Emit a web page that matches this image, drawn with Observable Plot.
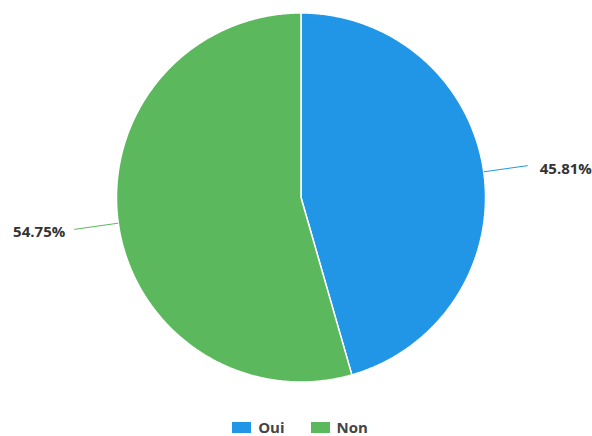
<!DOCTYPE html>
<html>
<head>
<meta charset="utf-8">
<script src="https://cdn.jsdelivr.net/npm/d3@7"></script>
<script src="https://cdn.jsdelivr.net/npm/@observablehq/plot@0.6"></script>
<style>
  html, body { margin: 0; padding: 0; background: #fff; }
  #chart { width: 592px; }
  #legend .leg-swatches { justify-content: center; padding-left: 8px; font-family: "Open Sans", sans-serif; font-size: 15px; font-weight: bold; color: #444; min-height: 30px; margin: 0; line-height: 1; }
  #legend .leg-swatch { margin: 0 13px; line-height: 1; }
  #legend .leg-swatch > svg { margin-right: 7px; }
</style>
</head>
<body>
<div id="chart"></div>
<div id="legend"></div>
<script>
const labels = ["Oui", "Non"];
const values = [45.81, 54.75];
const labelTexts = ["45.81%", "54.75%"];
const colors = ["#2196e6", "#5cb85c"];

const W = 592, H = 412;
const R = 184.5, cx = 300.5, cy = 197;

const rows = labels.map((label, i) => ({label, value: values[i], text: labelTexts[i]}));
const arcs = d3.pie().sort(null).value(d => d.value)(rows);

// slice outlines (center + arc vertices) in chart units
const slicePts = [];
for (const a of arcs) {
  slicePts.push({label: a.data.label, x: 0, y: 0});
  const n = Math.max(2, Math.ceil((a.endAngle - a.startAngle) / (Math.PI / 360)));
  for (let k = 0; k <= n; k++) {
    const t = a.startAngle + (a.endAngle - a.startAngle) * k / n;
    slicePts.push({label: a.data.label, x: R * Math.sin(t), y: R * Math.cos(t)});
  }
}

const R2 = 229;
const callouts = arcs.map(a => {
  const m = (a.startAngle + a.endAngle) / 2;
  return {
    label: a.data.label, text: a.data.text,
    x1: R * Math.sin(m), y1: R * Math.cos(m),
    x2: R2 * Math.sin(m), y2: R2 * Math.cos(m),
    side: Math.sin(m) >= 0 ? 1 : -1
  };
});

const colorScale = {domain: labels, range: colors};

const plot = Plot.plot({
  width: W, height: H,
  marginTop: 0, marginRight: 0, marginBottom: 0, marginLeft: 0,
  x: {axis: null, domain: [-cx, W - cx]},
  y: {axis: null, domain: [-(H - cy), cy]},
  color: colorScale,
  style: {fontFamily: "'Open Sans', sans-serif", background: "#fff"},
  marks: [
    Plot.line(slicePts, {x: "x", y: "y", z: "label", fill: "label", stroke: "#fff", strokeWidth: 1.5, curve: "linear-closed"}),
    Plot.link(callouts, {x1: "x1", y1: "y1", x2: "x2", y2: "y2", stroke: "label", strokeWidth: 1}),
    Plot.text(callouts, {filter: d => d.side > 0, x: "x2", y: "y2", text: "text", textAnchor: "start", dx: 12, dy: 4, fontSize: 15, fontWeight: "bold", fill: "#333"}),
    Plot.text(callouts, {filter: d => d.side < 0, x: "x2", y: "y2", text: "text", textAnchor: "end", dx: -9, dy: 3, fontSize: 15, fontWeight: "bold", fill: "#333"})
  ]
});
document.getElementById("chart").appendChild(plot);

const leg = Plot.legend({
  color: {...colorScale, type: "ordinal"},
  legend: "swatches",
  swatchWidth: 19, swatchHeight: 11,
  className: "leg"
});
document.getElementById("legend").appendChild(leg);
</script>
</body>
</html>
